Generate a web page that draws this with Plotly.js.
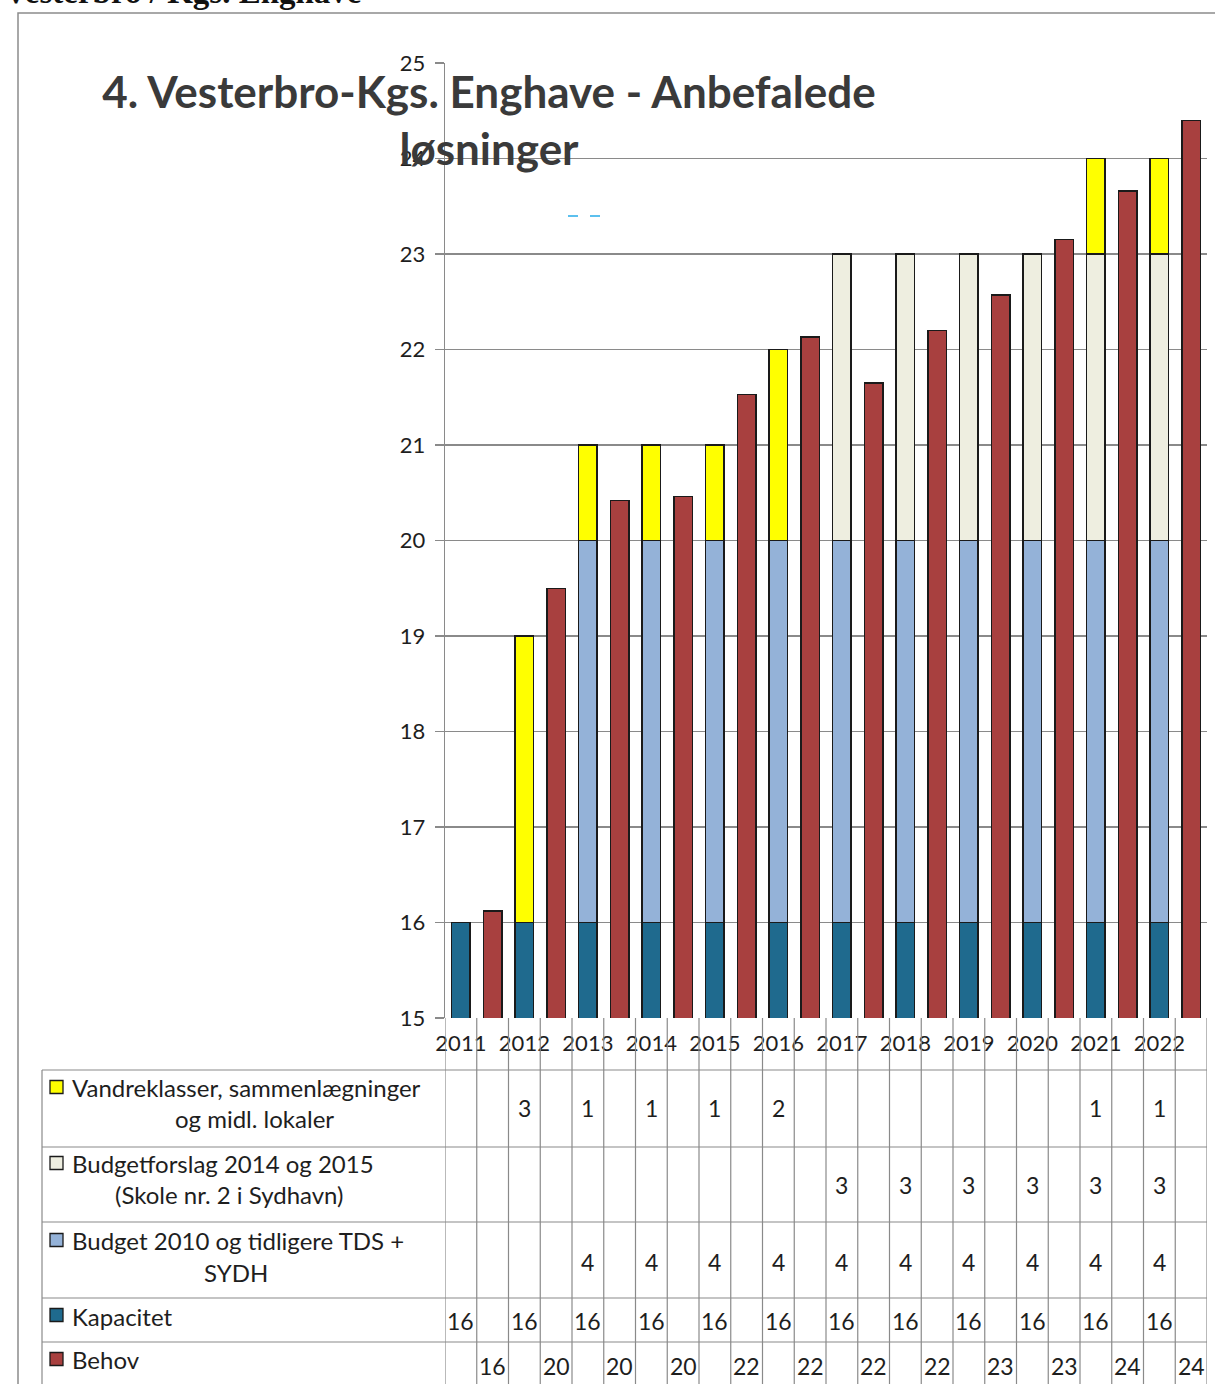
<!DOCTYPE html>
<html>
<head>
<meta charset="utf-8">
<script src="https://cdn.plot.ly/plotly-3.0.1.min.js"></script>
<style>
  html, body { margin: 0; padding: 0; background: #fff; }
  #chart { width: 1215px; height: 1384px; }
</style>
</head>
<body>
<div id="chart"></div>
<script>
// ---- data ----
const years = ['2011','2012','2013','2014','2015','2016','2017','2018','2019','2020','2021','2022'];
const kapacitet     = [16,16,16,16,16,16,16,16,16,16,16,16];
const budget2010    = [null,null,4,4,4,4,4,4,4,4,4,4];
const budgetforslag = [null,null,null,null,null,null,3,3,3,3,3,3];
const vandreklasser = [null,3,1,1,1,2,null,null,null,null,1,1];
const behov         = [16.12,19.5,20.42,20.46,21.53,22.13,21.65,22.2,22.57,23.15,23.66,24.4];
const yTicks = [15,16,17,18,19,20,21,22,23,24,25];

const seriesNames = {
  vandre: ['Vandreklasser, sammenlægninger', 'og midl. lokaler'],
  forslag: ['Budgetforslag 2014 og 2015', '(Skole nr. 2 i Sydhavn)'],
  budget: ['Budget 2010 og tidligere TDS +', 'SYDH'],
  kap: ['Kapacitet'],
  behov: ['Behov']
};

// ---- layout helpers (pixel -> paper) ----
const W = 1215, H = 1384;
const L = 445, R = 8, T = 63, B = 366;
const plotW = W - L - R, plotH = H - T - B;
const px = x => (x - L) / plotW;
const py = y => (H - B - y) / plotH;

const colors = {
  kap: '#1f6a8e',
  budget: '#94b2d8',
  forslag: '#eeeee0',
  vandre: '#ffff00',
  behov: '#a8403f'
};
const outline = { color: '#1a1a1a', width: 1.5 };

const capX = years.map((_, i) => 2 * i);
const behX = years.map((_, i) => 2 * i + 1);

const traces = [
  { type: 'bar', name: 'Kapacitet', x: capX, y: kapacitet, marker: { color: colors.kap, line: outline } },
  { type: 'bar', name: 'Budget 2010 og tidligere TDS + SYDH', x: capX, y: budget2010, marker: { color: colors.budget, line: outline } },
  { type: 'bar', name: 'Budgetforslag 2014 og 2015 (Skole nr. 2 i Sydhavn)', x: capX, y: budgetforslag, marker: { color: colors.forslag, line: outline } },
  { type: 'bar', name: 'Vandreklasser, sammenlægninger og midl. lokaler', x: capX, y: vandreklasser, marker: { color: colors.vandre, line: outline } },
  { type: 'bar', name: 'Behov', x: behX, y: behov, marker: { color: colors.behov, line: outline } }
];

const FONT = 'Lato, "Open Sans", sans-serif';
const gridCol = '#8a8a8a';
const shapes = [];
const annotations = [];

// outer border
shapes.push({ type: 'rect', xref: 'paper', yref: 'paper', x0: px(18), x1: px(1240), y0: py(1400), y1: py(13),
  line: { color: '#8c8c8c', width: 1.5 }, fillcolor: 'rgba(0,0,0,0)', layer: 'below' });

// data table grid
const rowLines = [1070, 1147, 1222, 1298, 1342];
rowLines.forEach(y => shapes.push({ type: 'line', xref: 'paper', yref: 'paper', x0: px(42), x1: px(1207), y0: py(y), y1: py(y),
  line: { color: gridCol, width: 1.2 } }));
shapes.push({ type: 'line', xref: 'paper', yref: 'paper', x0: px(42), x1: px(42), y0: py(1070), y1: py(1400),
  line: { color: gridCol, width: 1.2 } });
for (let i = 0; i <= years.length * 2; i++) {
  shapes.push({ type: 'line', xref: 'x', yref: 'paper', x0: i - 0.5, x1: i - 0.5, y0: py(1018), y1: py(1400),
    line: { color: gridCol, width: 1.2 } });
}

// legend keys in table
const keyRows = [
  { c: colors.vandre, y: 1087 }, { c: colors.forslag, y: 1163 }, { c: colors.budget, y: 1240 },
  { c: colors.kap, y: 1315 }, { c: colors.behov, y: 1359 }
];
keyRows.forEach(k => shapes.push({ type: 'rect', xref: 'paper', yref: 'paper', x0: px(50), x1: px(63), y0: py(k.y + 6.5), y1: py(k.y - 6.5),
  fillcolor: k.c, line: { color: '#1a1a1a', width: 1.3 } }));

// small blue scan marks near title
[[568, 578], [590, 600]].forEach(s => shapes.push({ type: 'line', xref: 'paper', yref: 'paper', x0: px(s[0]), x1: px(s[1]), y0: py(216), y1: py(216),
  line: { color: '#5cc0ee', width: 2 } }));

// row labels
const txtFont = { family: FONT, size: 24, color: '#1e1e1e' };
const numFont = { family: FONT, size: 23, color: '#1e1e1e' };
function leftLabel(text, y) {
  annotations.push({ xref: 'paper', yref: 'paper', x: px(70), y: py(y), xanchor: 'left', yanchor: 'middle', text, showarrow: false, font: txtFont });
}
function centerLabel(text, x, y) {
  annotations.push({ xref: 'paper', yref: 'paper', x: px(x), y: py(y), xanchor: 'center', yanchor: 'middle', text, showarrow: false, font: txtFont });
}
leftLabel(seriesNames.vandre[0], 1087); centerLabel(seriesNames.vandre[1], 254, 1118);
leftLabel(seriesNames.forslag[0], 1163); centerLabel(seriesNames.forslag[1], 229, 1194);
leftLabel(seriesNames.budget[0], 1240); centerLabel(seriesNames.budget[1], 236, 1272);
leftLabel(seriesNames.kap[0], 1316);
leftLabel(seriesNames.behov[0], 1360);

// table values
function rowValues(arr, xs, y, fmt) {
  arr.forEach((v, i) => {
    if (v === null || v === undefined) return;
    annotations.push({ xref: 'x', yref: 'paper', x: xs[i], y: py(y), xanchor: 'center', yanchor: 'middle',
      text: String(fmt ? fmt(v) : v), showarrow: false, font: numFont });
  });
}
rowValues(vandreklasser, capX, 1108);
rowValues(budgetforslag, capX, 1185);
rowValues(budget2010, capX, 1262);
rowValues(kapacitet, capX, 1321);
rowValues(behov, behX, 1366, v => Math.round(v));

// clipped header text at very top
annotations.push({ xref: 'paper', yref: 'paper', x: px(2), y: py(-8), xanchor: 'left', yanchor: 'middle',
  text: '<b>Vesterbro / Kgs. Enghave</b>', showarrow: false,
  font: { family: '"Liberation Serif", "Times New Roman", serif', size: 33, color: '#111' } });

const layout = {
  width: W, height: H,
  margin: { l: L, r: R, t: T, b: B },
  paper_bgcolor: '#ffffff', plot_bgcolor: 'rgba(0,0,0,0)',
  barmode: 'stack', bargap: 0.42,
  showlegend: false,
  title: {
    text: '4. Vesterbro-Kgs. Enghave - Anbefalede<br>løsninger',
    x: 489 / W, xanchor: 'center', xref: 'container',
    y: 1 - 108 / H, yanchor: 'middle', yref: 'container',
    font: { family: FONT, size: 44, color: '#3a3a3a', weight: 'bold' }
  },
  xaxis: {
    type: 'linear', range: [-0.5, 23.5],
    tickmode: 'array', tickvals: capX, ticktext: years,
    ticks: '', showgrid: false, zeroline: false, showline: false,
    tickfont: { family: FONT, size: 22, color: '#1e1e1e' },
    ticklabelstandoff: 10, fixedrange: true
  },
  yaxis: {
    range: [15, 25], tickmode: 'array', tickvals: yTicks,
    ticks: 'outside', ticklen: 9, tickcolor: gridCol, tickwidth: 1.2,
    showline: true, linecolor: gridCol, linewidth: 1.2,
    showgrid: true, gridcolor: gridCol, gridwidth: 1.2, zeroline: false,
    tickfont: { family: FONT, size: 22, color: '#1e1e1e' },
    ticklabelstandoff: 5, fixedrange: true
  },
  shapes, annotations
};

Plotly.newPlot('chart', traces, layout, { displayModeBar: false, staticPlot: true });
</script>
</body>
</html>
